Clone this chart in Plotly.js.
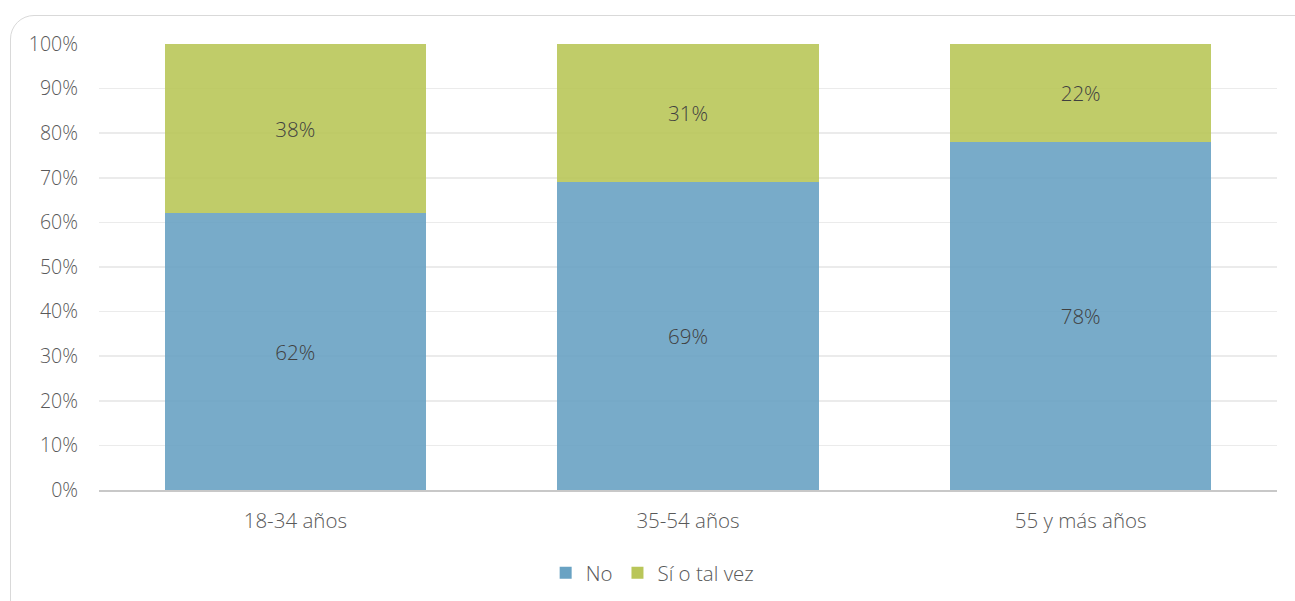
<!DOCTYPE html>
<html>
<head>
<meta charset="utf-8">
<script src="https://cdn.plot.ly/plotly-3.0.1.min.js"></script>
<style>
html,body{margin:0;padding:0;background:#fff;overflow:hidden;}
#frame{position:absolute;left:10px;top:15px;width:1310px;height:620px;border:1.5px solid #d9d9d9;border-radius:24px;box-sizing:border-box;}
#chart{position:absolute;left:0;top:0;width:1295px;height:601px;}
</style>
</head>
<body>
<div id="frame"></div>
<div id="chart"></div>
<script>
const categories = ['18-34 años', '35-54 años', '55 y más años'];
const noValues = [62, 69, 78];
const siValues = [38, 31, 22];
const seriesNames = ['No', 'Sí o tal vez'];
const yTickVals = [0,10,20,30,40,50,60,70,80,90,100];
const yTickText = yTickVals.map(v => v + '%');

const fontFam = '"Open Sans", sans-serif';
const traces = [
  {type:'bar', name:seriesNames[0], x:categories, y:noValues,
   marker:{color:'rgb(105,162,195)', opacity:0.9},
   texttemplate:'%{y}%', textposition:'inside', insidetextanchor:'middle',
   textfont:{family:fontFam, size:20.5, color:'#404040', weight:300}, hoverinfo:'none'},
  {type:'bar', name:seriesNames[1], x:categories, y:siValues,
   marker:{color:'rgb(185,198,89)', opacity:0.9},
   texttemplate:'%{y}%', textposition:'inside', insidetextanchor:'middle',
   textfont:{family:fontFam, size:20.5, color:'#404040', weight:300}, hoverinfo:'none'}
];
const layout = {
  width:1295, height:601,
  margin:{l:99, r:18, t:44, b:111, autoexpand:false},
  paper_bgcolor:'rgba(0,0,0,0)', plot_bgcolor:'rgba(0,0,0,0)',
  barmode:'stack', bargap:0.335,
  font:{family:fontFam, color:'#595959', size:20, weight:300},
  xaxis:{type:'category', showgrid:false, showline:true, linecolor:'#c8c8c8', linewidth:1.5,
         ticks:'', tickfont:{size:20.5, color:'#595959', weight:300}, ticklabelstandoff:12},
  yaxis:{range:[0,100], tickvals:yTickVals, ticktext:yTickText, showgrid:true,
         gridcolor:'#ebebeb', gridwidth:1.5, zeroline:false, showline:false, ticks:'',
         tickfont:{size:19.5, color:'#595959', weight:300}, ticklabelstandoff:20},
  showlegend:true,
  legend:{orientation:'h', x:0.47, xanchor:'center', y:-0.186, yanchor:'middle',
          font:{size:20.5, color:'#595959', weight:300}, itemwidth:20, traceorder:'normal'}
};
Plotly.newPlot('chart', traces, layout, {displayModeBar:false, staticPlot:true});
</script>
</body>
</html>
